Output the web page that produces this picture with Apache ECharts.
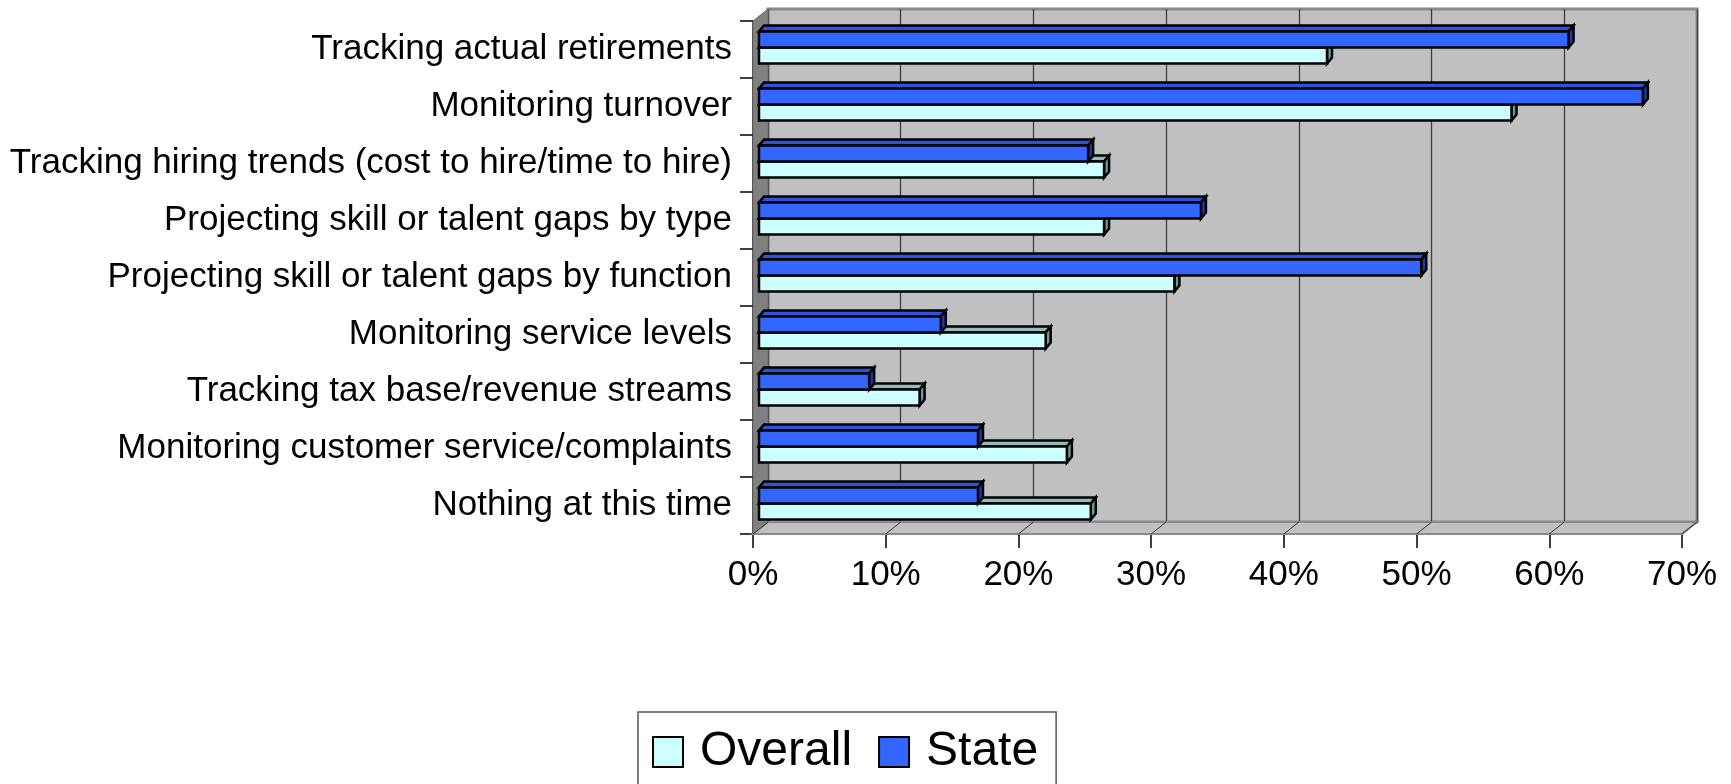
<!DOCTYPE html>
<html>
<head>
<meta charset="utf-8">
<script src="https://cdn.jsdelivr.net/npm/echarts@6/dist/echarts.min.js"></script>
<style>
html,body{margin:0;padding:0;background:#fff;}
#c{width:1731px;height:784px;}
</style>
</head>
<body>
<div id="c"></div>
<script>
var categories = [
  'Tracking actual retirements',
  'Monitoring turnover',
  'Tracking hiring trends (cost to hire/time to hire)',
  'Projecting skill or talent gaps by type',
  'Projecting skill or talent gaps by function',
  'Monitoring service levels',
  'Tracking tax base/revenue streams',
  'Monitoring customer service/complaints',
  'Nothing at this time'
];
var overallValues = [42.8, 56.7, 26.0, 26.0, 31.3, 21.6, 12.1, 23.2, 25.0];
var stateValues   = [61.0, 66.6, 24.8, 33.3, 49.9, 13.7, 8.3, 16.5, 16.5];
var xTicks = [0, 10, 20, 30, 40, 50, 60, 70];

var FONT = '"Liberation Sans", Arial, sans-serif';
var DEPTH_X = 15, DEPTH_Y = -12;      // wall depth
var PLANE_X = 6, PLANE_Y = -2;        // bar plane offset from front
var BAR_DX = 5, BAR_DY = -6;          // bar thickness (3D)

function pairData(vals) {
  return vals.map(function (v, i) { return [v, i]; });
}

function makeBarRender(isState, front, top, side) {
  return function (params, api) {
    var v = api.value(0), cat = api.value(1);
    var p0 = api.coord([0, cat]);
    var p1 = api.coord([v, cat]);
    var band = api.size([0, 1])[1];
    var h = band * 0.28;
    var yc = p0[1] + PLANE_Y;
    var y0 = isState ? yc - h : yc;
    var y1 = isState ? yc : yc + h;
    var x0 = p0[0] + PLANE_X, x1 = p1[0] + PLANE_X;
    var st = { stroke: '#000', lineWidth: 2.5, lineJoin: 'miter' };
    return {
      type: 'group',
      children: [
        { type: 'polygon', shape: { points: [[x0, y0], [x1, y0], [x1 + BAR_DX, y0 + BAR_DY], [x0 + BAR_DX, y0 + BAR_DY]] },
          style: Object.assign({ fill: top }, st) },
        { type: 'polygon', shape: { points: [[x1, y0], [x1 + BAR_DX, y0 + BAR_DY], [x1 + BAR_DX, y1 + BAR_DY], [x1, y1]] },
          style: Object.assign({ fill: side }, st) },
        { type: 'rect', shape: { x: x0, y: y0, width: x1 - x0, height: y1 - y0 },
          style: Object.assign({ fill: front }, st) }
      ]
    };
  };
}

function wallRender(params, api) {
  var cs = params.coordSys;
  var L = cs.x, T = cs.y, R = cs.x + cs.width, B = cs.y + cs.height;
  var children = [];
  children.push({ type: 'polygon', shape: { points: [[L, T], [L + DEPTH_X, T + DEPTH_Y], [L + DEPTH_X, B + DEPTH_Y], [L, B]] },
    style: { fill: '#808080', stroke: '#6e6e6e', lineWidth: 1 } });
  children.push({ type: 'polygon', shape: { points: [[L, B], [R, B], [R + DEPTH_X, B + DEPTH_Y], [L + DEPTH_X, B + DEPTH_Y]] },
    style: { fill: '#c0c0c0', stroke: '#8a8a8a', lineWidth: 2 } });
  xTicks.forEach(function (t) {
    var x = api.coord([t, 0])[0];
    children.push({ type: 'line', shape: { x1: x, y1: B, x2: x + DEPTH_X, y2: B + DEPTH_Y },
      style: { stroke: '#333', lineWidth: 1 } });
  });
  return { type: 'group', children: children };
}

var chart = echarts.init(document.getElementById('c'), null, { renderer: 'canvas' });
chart.setOption({
  animation: false,
  backgroundColor: '#ffffff',
  grid: [
    { left: 753, right: 49, top: 21, bottom: 250, containLabel: false },
    { left: 768, right: 34, top: 9, bottom: 262, show: true, backgroundColor: '#c0c0c0',
      borderColor: '#8a8a8a', borderWidth: 3 }
  ],
  xAxis: [
    { type: 'value', gridIndex: 0, min: 0, max: 70, interval: 10,
      axisLine: { show: true, lineStyle: { color: '#000', width: 1.5 } },
      axisTick: { show: true, length: 14, lineStyle: { color: '#000', width: 1.5 } },
      splitLine: { show: false },
      axisLabel: { formatter: '{value}%', fontFamily: FONT, fontSize: 35, color: '#000', margin: 24 } },
    { type: 'value', gridIndex: 1, min: 0, max: 70, interval: 10,
      axisLine: { show: false }, axisTick: { show: false }, axisLabel: { show: false },
      splitLine: { show: true, lineStyle: { color: '#404040', width: 1.3 } } }
  ],
  yAxis: [
    { type: 'category', gridIndex: 0, data: categories, inverse: true,
      axisLine: { show: true, lineStyle: { color: '#000', width: 1.5 } },
      axisTick: { show: true, length: 13, lineStyle: { color: '#000', width: 1.5 } },
      axisLabel: { fontFamily: FONT, fontSize: 35, color: '#000', margin: 21 } },
    { type: 'category', gridIndex: 1, data: categories, inverse: true, show: false }
  ],
  legend: {
    data: ['Overall', 'State'],
    left: 638, top: 712,
    orient: 'horizontal',
    itemWidth: 30, itemHeight: 30, itemGap: 26,
    padding: [16, 18, 30, 14],
    borderColor: '#555', borderWidth: 1.5,
    icon: 'rect',
    itemStyle: { borderColor: '#000', borderWidth: 2 },
    textStyle: { fontFamily: FONT, fontSize: 48, color: '#000', padding: [0, 0, 0, 12] }
  },
  series: [
    { type: 'custom', name: 'walls', xAxisIndex: 0, yAxisIndex: 0, data: [[0, 0]],
      encode: { x: 0, y: 1 }, renderItem: wallRender, z: 1, silent: true },
    { type: 'custom', name: 'Overall', xAxisIndex: 0, yAxisIndex: 0, data: pairData(overallValues),
      encode: { x: 0, y: 1 }, itemStyle: { color: '#ccffff' }, z: 3,
      renderItem: makeBarRender(false, '#ccffff', '#8fbcbc', '#6f9898') },
    { type: 'custom', name: 'State', xAxisIndex: 0, yAxisIndex: 0, data: pairData(stateValues),
      encode: { x: 0, y: 1 }, itemStyle: { color: '#3366ff' }, z: 4,
      renderItem: makeBarRender(true, '#3366ff', '#2b55d8', '#1d3ca8') }
  ]
});
</script>
</body>
</html>
